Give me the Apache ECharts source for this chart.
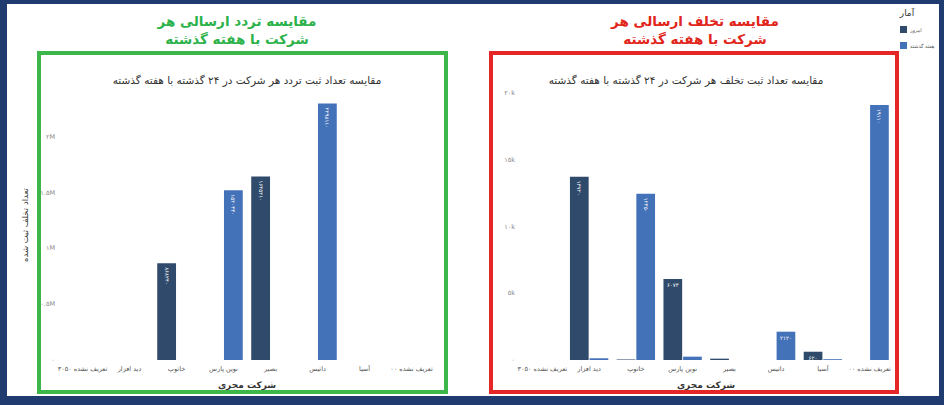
<!DOCTYPE html>
<html>
<head>
<meta charset="utf-8">
<script src="https://cdn.jsdelivr.net/npm/echarts@6/dist/echarts.min.js"></script>
<style>
html,body{margin:0;padding:0;background:#fff;}
#c{width:944px;height:405px;}
</style>
</head>
<body>
<div id="c"></div>
<script>
// ---------- data ----------
const categories = ['تعریف نشده ۳۰۵۰', 'دید افزار', 'خاتوپ', 'نوین پارس', 'بصیر', 'داتیس', 'آسیا', 'تعریف نشده ۰۰'];
const seriesNames = ['امروز', 'هفته گذشته'];

// Left chart: traffic (تردد)
const trafficToday    = [0, 0, 868240, 0, 1645210, 0, 0, 0];
const trafficLastWeek = [0, 0, 0, 1520430, 0, 2298110, 0, 0];
const trafficTicks = ['۰', '۰.۵M', '۱M', '۱.۵M', '۲M'];

// Right chart: violations (تخلف)
const violToday    = [0, 13720, 40, 6073, 100, 0, 620, 0];
const violLastWeek = [0, 130, 12450, 250, 0, 2120, 60, 19110];
const violTicks = ['۰', '۵k', '۱۰k', '۱۵k', '۲۰k'];

const mainTitleLeft  = ['مقایسه تردد ارسالی هر', 'شرکت با هفته گذشته'];
const mainTitleRight = ['مقایسه تخلف ارسالی هر', 'شرکت با هفته گذشته'];
const chartTitleLeft  = 'مقایسه تعداد ثبت تردد هر شرکت در ۲۴ گذشته با هفته گذشته';
const chartTitleRight = 'مقایسه تعداد ثبت تخلف هر شرکت در ۲۴ گذشته با هفته گذشته';
const yTitle = 'تعداد تخلف ثبت شده';
const xTitle = 'شرکت مجری';
const legendTitle = 'آمار';

// ---------- helpers ----------
const FA = '۰۱۲۳۴۵۶۷۸۹';
const fa = s => String(s).replace(/\d/g, d => FA[d]);
const FONT = '"DejaVu Sans", "Noto Sans", sans-serif';
const DARK = '#2f4a6a';
const BLUE = '#4472b9';

function labelFor(v, minShow) {
  if (!v || v < minShow) return { show: false };
  const txt = fa(v);
  if (txt.length >= 5) {
    return { show: true, position: 'insideTop', distance: 4, rotate: -90, align: 'left', verticalAlign: 'middle' };
  }
  return { show: true, position: 'insideTop', distance: 3, rotate: 0, align: 'center', verticalAlign: 'top' };
}
function items(vals, minShow) {
  return vals.map(v => ({ value: v, label: labelFor(v, minShow) }));
}
function barSeries(name, vals, color, idx, minShow) {
  return {
    type: 'bar', name: name, xAxisIndex: idx, yAxisIndex: idx,
    data: items(vals, minShow),
    itemStyle: { color: color },
    barWidth: '40%', barGap: '5%',
    label: { color: '#fff', fontSize: 5.5, fontFamily: FONT, formatter: p => fa(p.value) },
    emphasis: { disabled: true }
  };
}
function xAxis(idx) {
  return {
    type: 'category', gridIndex: idx, data: categories,
    axisLine: { show: false }, axisTick: { show: false },
    axisLabel: { interval: 0, fontSize: 6.5, color: '#555', margin: 5, fontFamily: FONT },
    name: xTitle, nameLocation: 'middle', nameGap: 20,
    nameTextStyle: { fontSize: 9, fontWeight: 'bold', color: '#333', fontFamily: FONT }
  };
}
function yAxis(idx, max, interval, ticks, withName, showMax) {
  const a = {
    type: 'value', gridIndex: idx, min: 0, max: max, interval: interval,
    axisLine: { show: false }, axisTick: { show: false },
    splitLine: { lineStyle: { color: '#ffffff', width: 1 } },
    axisLabel: {
      fontSize: 6.5, color: '#888', margin: 4, fontFamily: FONT, showMaxLabel: showMax,
      formatter: v => ticks[Math.round(v / interval)] || ''
    }
  };
  if (withName) {
    a.name = yTitle; a.nameLocation = 'middle'; a.nameRotate = 90; a.nameGap = 30;
    a.nameTextStyle = { fontSize: 8.5, color: '#333', fontFamily: FONT };
  }
  return a;
}
function txt(text, x, y, size, color, weight) {
  return { type: 'text', silent: true, z: 10,
    style: { text: text, x: x, y: y, align: 'center', verticalAlign: 'middle',
      fill: color, font: (weight || 'normal') + ' ' + size + 'px ' + FONT } };
}

const chart = echarts.init(document.getElementById('c'), null, { renderer: 'svg' });
chart.setOption({
  animation: false,
  backgroundColor: '#1f3b6f',
  textStyle: { fontFamily: FONT },
  graphic: [
    { type: 'rect', silent: true, z: 0, shape: { x: 7, y: 4, width: 932, height: 392 }, style: { fill: '#ffffff' } },
    { type: 'rect', silent: true, z: 1, shape: { x: 39, y: 53, width: 407, height: 339 }, style: { fill: 'none', stroke: '#3db64a', lineWidth: 4 } },
    { type: 'rect', silent: true, z: 1, shape: { x: 491, y: 53, width: 406, height: 339 }, style: { fill: 'none', stroke: '#e42626', lineWidth: 4 } },
    txt(mainTitleLeft[0], 237, 21, 13.5, '#2cb24a', 'bold'),
    txt(mainTitleLeft[1], 237, 39, 13.5, '#2cb24a', 'bold'),
    txt(mainTitleRight[0], 695, 21, 13.5, '#e1251b', 'bold'),
    txt(mainTitleRight[1], 695, 39, 13.5, '#e1251b', 'bold'),
    txt(chartTitleLeft, 247, 80, 10.5, '#333'),
    txt(chartTitleRight, 686, 80, 10.5, '#333'),
    txt(legendTitle, 907, 13, 9, '#333')
  ],
  legend: {
    data: seriesNames, orient: 'vertical', left: 895, top: 21,
    itemWidth: 7, itemHeight: 7, itemGap: 9, icon: 'rect',
    textStyle: { fontSize: 5, color: '#555', fontFamily: FONT, padding: [0, 0, 0, -2] },
    selectedMode: false
  },
  grid: [
    { left: 59, top: 90, width: 376, height: 270, show: true, backgroundColor: '#e5ecf6', borderWidth: 0 },
    { left: 519, top: 93, width: 374, height: 267, show: true, backgroundColor: '#e5ecf6', borderWidth: 0 }
  ],
  xAxis: [xAxis(0), xAxis(1)],
  yAxis: [
    yAxis(0, 2420000, 500000, trafficTicks, true, false),
    yAxis(1, 20000, 5000, violTicks, false, true)
  ],
  series: [
    barSeries(seriesNames[0], trafficToday, DARK, 0, 1000),
    barSeries(seriesNames[1], trafficLastWeek, BLUE, 0, 1000),
    barSeries(seriesNames[0], violToday, DARK, 1, 300),
    barSeries(seriesNames[1], violLastWeek, BLUE, 1, 300)
  ]
});
</script>
</body>
</html>
